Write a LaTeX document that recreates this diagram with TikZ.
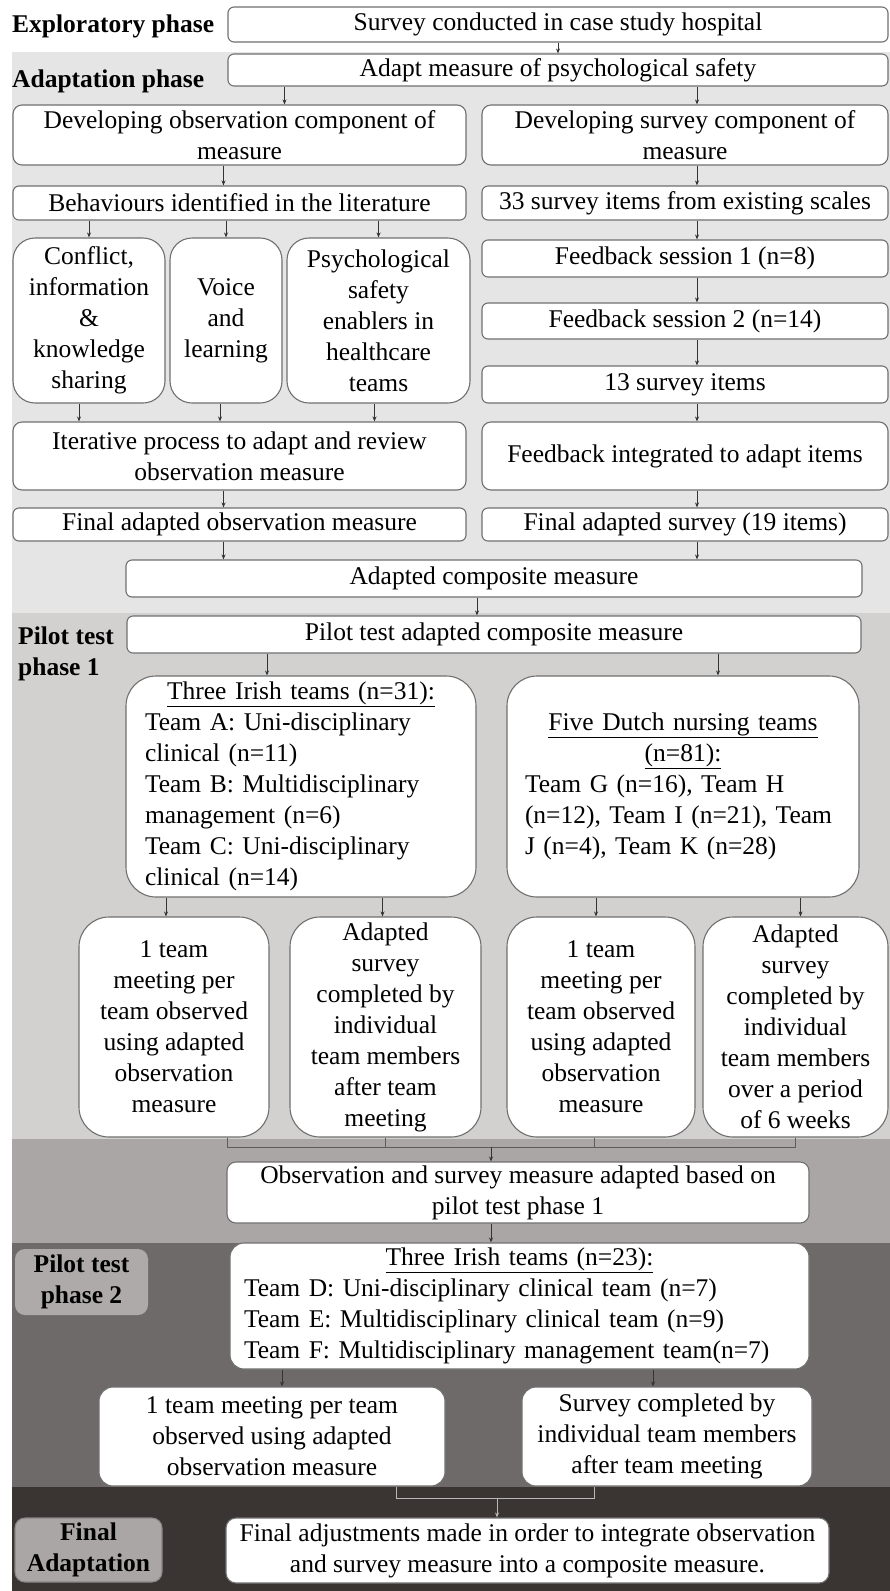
\documentclass[tikz,border=0pt]{standalone}
\usepackage{fontspec}
\setmainfont{Liberation Serif}
\usetikzlibrary{arrows.meta, positioning}
\definecolor{BandAdapt}{HTML}{E5E5E5}
\definecolor{BandPilotA}{HTML}{D3D1D0}
\definecolor{BandRevise}{HTML}{AAA6A5}
\definecolor{BandPilotB}{HTML}{6E6A69}
\definecolor{BandFinal}{HTML}{3A3433}
\definecolor{BoxGray}{HTML}{707070}
\definecolor{LineDark}{HTML}{333333}
\definecolor{LineLight}{HTML}{B8B8B8}

\tikzset{
  box/.style={draw=BoxGray, fill=white, line width=1.1pt, rounded corners=6pt,
              align=center, inner sep=2pt, font=\fontsize{25.5}{31}\selectfont},
  phaselabel/.style={font=\fontsize{25.5}{31}\selectfont\bfseries, align=left, inner sep=0pt},
  arr/.style={-{Stealth[length=5pt,width=4pt]}, line width=0.8pt, draw=LineDark},
  brk/.style={line width=1pt, draw=LineDark!80},
}

\begin{document}
\begin{tikzpicture}[x=1pt, y=-1pt]
  \useasboundingbox (0,0) rectangle (890,1591);

  % Phase bands
  \fill[BandAdapt]  (12,52)   rectangle (890,613);
  \fill[BandPilotA] (12,613)  rectangle (890,1139);
  \fill[BandRevise] (12,1139) rectangle (890,1243);
  \fill[BandPilotB] (12,1243) rectangle (890,1487);
  \fill[BandFinal]  (12,1487) rectangle (890,1591);

  % Phase labels
  \node[phaselabel, anchor=west] (lblExp) at (12,26) {Exploratory phase};
  \node[phaselabel, anchor=west] (lblAdapt) at (12,81) {Adaptation phase};
  \node[phaselabel, anchor=west] (lblPilotA) at (18,654) {Pilot test\\phase 1};
  \node[box, draw=none, fill=BandRevise!95!white, rounded corners=10pt, font=\fontsize{25.5}{31}\selectfont\bfseries,
        minimum width=133pt, minimum height=66pt] (lblPilotB) at (81.5,1282) {Pilot test\\phase 2};
  \node[box, draw=BandRevise!80!black, fill=BandRevise, rounded corners=10pt, font=\fontsize{25.5}{31}\selectfont\bfseries,
        minimum width=147pt, minimum height=64pt] (lblFinal) at (88.5,1550) {Final\\Adaptation};

  % Exploratory and adaptation phase
  \node[box, minimum width=660pt, minimum height=35pt] (survey) at (558,24.5) {Survey conducted in case study hospital};
  \node[box, minimum width=660pt, minimum height=32pt] (adapt) at (558,70) {Adapt measure of psychological safety};

  \node[box, rounded corners=9pt, minimum width=453pt, minimum height=60pt] (dobs) at (239.5,135) {Developing observation component of\\measure};
  \node[box, rounded corners=9pt, minimum width=406pt, minimum height=60pt] (dsur) at (685,135) {Developing survey component of\\measure};

  \node[box, minimum width=453pt, minimum height=34pt] (behav) at (239.5,203) {Behaviours identified in the literature};
  \node[box, minimum width=406pt, minimum height=34pt] (items33) at (685,203) {33 survey items from existing scales};

  \node[box, rounded corners=22pt, minimum width=152pt, minimum height=165pt] (conf) at (89,320.5) {Conflict,\\information\\\&\\knowledge\\sharing};
  \node[box, rounded corners=22pt, minimum width=112pt, minimum height=165pt] (voice) at (226,320.5) {Voice\\and\\learning};
  \node[box, rounded corners=22pt, minimum width=183pt, minimum height=165pt] (psych) at (378.5,320.5) {Psychological\\safety\\enablers in\\healthcare\\teams};

  \node[box, minimum width=406pt, minimum height=37pt] (fs1) at (685,258.5) {Feedback session 1 (n=8)};
  \node[box, minimum width=406pt, minimum height=36pt] (fs2) at (685,321) {Feedback session 2 (n=14)};
  \node[box, minimum width=406pt, minimum height=37pt] (items13) at (685,384.5) {13 survey items};

  \node[box, rounded corners=9pt, minimum width=453pt, minimum height=68pt] (iter) at (239.5,456) {Iterative process to adapt and review\\observation measure};
  \node[box, rounded corners=9pt, minimum width=406pt, minimum height=68pt] (fint) at (685,456) {Feedback integrated to adapt items};

  \node[box, minimum width=453pt, minimum height=33pt] (fobs) at (239.5,524.5) {Final adapted observation measure};
  \node[box, minimum width=406pt, minimum height=33pt] (fsur) at (685,524.5) {Final adapted survey (19 items)};

  \node[box, minimum width=736pt, minimum height=37pt] (comp) at (494,578.5) {Adapted composite measure};

  % Pilot test phase 1
  \node[box, minimum width=734pt, minimum height=37pt] (pilot) at (494,634.5) {Pilot test adapted composite measure};

  \node[box, rounded corners=30pt, align=left, text width=312pt, minimum width=350pt, minimum height=221pt] (irish) at (301,786.5)
    {\makebox[\linewidth]{\underline{Three Irish teams (n=31):}}\\Team A: Uni-disciplinary\\clinical (n=11)\\Team B: Multidisciplinary\\management (n=6)\\Team C: Uni-disciplinary\\clinical (n=14)};
  \node[box, rounded corners=30pt, align=left, text width=316pt, minimum width=352pt, minimum height=221pt] (dutch) at (683,786.5)
    {\makebox[\linewidth]{\underline{Five Dutch nursing teams}}\\\makebox[\linewidth]{\underline{(n=81):}}\\Team G (n=16), Team H\\(n=12), Team I (n=21), Team\\J (n=4), Team K (n=28)};

  \node[box, rounded corners=30pt, minimum width=190pt, minimum height=220pt] (obs1) at (174,1027) {1 team\\meeting per\\team observed\\using adapted\\observation\\measure};
  \node[box, rounded corners=30pt, minimum width=191pt, minimum height=220pt] (sur1) at (385.5,1027) {Adapted\\survey\\completed by\\individual\\team members\\after team\\meeting};
  \node[box, rounded corners=30pt, minimum width=188pt, minimum height=220pt] (obs2) at (601,1027) {1 team\\meeting per\\team observed\\using adapted\\observation\\measure};
  \node[box, rounded corners=30pt, minimum width=185pt, minimum height=220pt] (sur2) at (795.5,1027) {Adapted\\survey\\completed by\\individual\\team members\\over a period\\of 6 weeks};

  \node[box, rounded corners=9pt, minimum width=582pt, minimum height=61pt] (obsadj) at (518,1192.5) {Observation and survey measure adapted based on\\pilot test phase 1};

  % Pilot test phase 2
  \node[box, rounded corners=14pt, align=left, text width=551pt, minimum width=579pt, minimum height=126pt] (irish2) at (519.5,1306)
    {\makebox[\linewidth]{\underline{Three Irish teams (n=23):}}\\Team D: Uni-disciplinary clinical team (n=7)\\Team E: Multidisciplinary clinical team (n=9)\\Team F: Multidisciplinary management team(n=7)};

  \node[box, rounded corners=14pt, minimum width=346pt, minimum height=99pt] (obs3) at (272,1436.5) {1 team meeting per team\\observed using adapted\\observation measure};
  \node[box, rounded corners=14pt, minimum width=290pt, minimum height=99pt] (sur3) at (667,1436.5) {Survey completed by\\individual team members\\after team meeting};

  % Final adaptation
  \node[box, rounded corners=10pt, minimum width=603pt, minimum height=65pt] (final) at (527.5,1550.5) {Final adjustments made in order to integrate observation\\and survey measure into a composite measure.};

  % Connectors, top part
  \draw[arr] (survey) -- (adapt);
  \draw[arr] ([xshift=45pt]dobs.north |- adapt.south) -- ([xshift=45pt]dobs.north);
  \draw[arr] ([xshift=12pt]dsur.north |- adapt.south) -- ([xshift=12pt]dsur.north);

  % left column
  \draw[arr] ([xshift=-16pt]dobs.south) -- ([xshift=-16pt]behav.north);
  \foreach \b in {conf, voice, psych}
    \draw[arr] (behav.south -| \b.north) -- (\b.north);
  \foreach \b/\s in {conf/-10, voice/-6, psych/-4}
    \draw[arr] ([xshift=\s pt]\b.south) -- ([xshift=\s pt]\b.south |- iter.north);
  \draw[arr] ([xshift=-16pt]iter.south) -- ([xshift=-16pt]fobs.north);
  \draw[arr] ([xshift=-16pt]fobs.south) -- ([xshift=-16pt]fobs.south |- comp.north);

  % right column
  \foreach \a/\b in {dsur/items33, items33/fs1, fs1/fs2, fs2/items13, items13/fint, fint/fsur}
    \draw[arr] ([xshift=12pt]\a.south) -- ([xshift=12pt]\b.north);
  \draw[arr] ([xshift=12pt]fsur.south) -- ([xshift=12pt]fsur.south |- comp.north);

  % pilot test phase 1
  \draw[arr] ([xshift=-17pt]comp.south) -- ([xshift=-17pt]comp.south |- pilot.north);
  \draw[arr] ([xshift=-34pt]irish.north |- pilot.south) -- ([xshift=-34pt]irish.north);
  \draw[arr] ([xshift=35pt]dutch.north |- pilot.south) -- ([xshift=35pt]dutch.north);
  \draw[arr] ([xshift=-8pt]obs1.north |- irish.south) -- ([xshift=-8pt]obs1.north);
  \draw[arr] ([xshift=-3pt]sur1.north |- irish.south) -- ([xshift=-3pt]sur1.north);
  \draw[arr] ([xshift=-5pt]obs2.north |- dutch.south) -- ([xshift=-5pt]obs2.north);
  \draw[arr] ([xshift=5pt]sur2.north |- dutch.south) -- ([xshift=5pt]sur2.north);

  % bracket joining the four pilot 1 outputs
  \coordinate (jn1) at (491,1147);
  \draw[brk] ([xshift=53pt]obs1.south) |- (jn1) -| (sur2.south);
  \draw[brk] (sur1.south) -- (sur1.south |- jn1);
  \draw[brk] ([xshift=-7pt]obs2.south) -- ([xshift=-7pt]obs2.south |- jn1);
  \draw[arr] (jn1) -- (jn1 |- obsadj.north);

  % pilot test phase 2
  \draw[arr] ([xshift=-27pt]obsadj.south) -- ([xshift=-27pt]obsadj.south |- irish2.north);
  \draw[arr] ([xshift=10pt]obs3.north |- irish2.south) -- ([xshift=10pt]obs3.north);
  \draw[arr] ([xshift=-14pt]sur3.north |- irish2.south) -- ([xshift=-14pt]sur3.north);

  \coordinate (jn2) at (497,1498);
  \draw[brk, draw=LineLight] ([xshift=124pt]obs3.south) |- (jn2) -| ([xshift=-73pt]sur3.south);
  \draw[arr, draw=LineLight] (jn2) -- (jn2 |- final.north);
\end{tikzpicture}
\end{document}
